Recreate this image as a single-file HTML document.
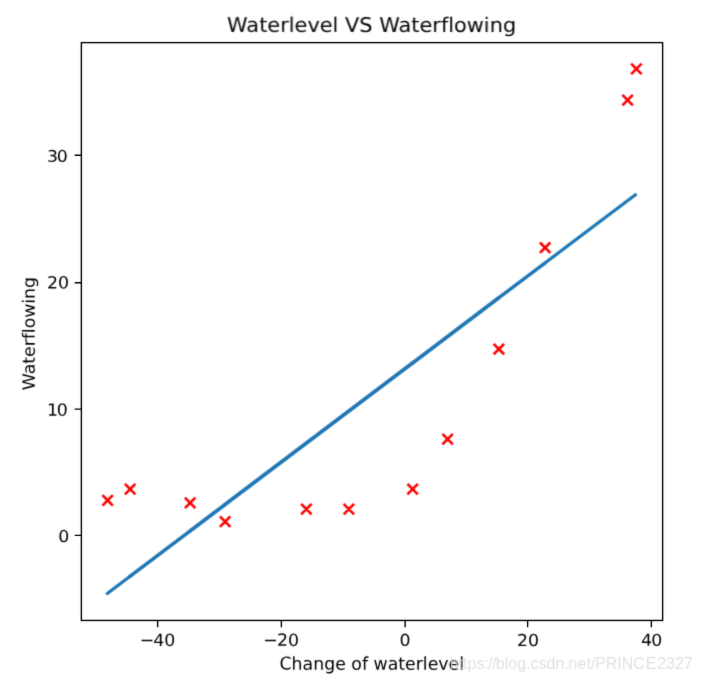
<!DOCTYPE html>
<html lang="en"><head><meta charset="utf-8"><title>Waterlevel VS Waterflowing</title>
<style>
html,body{margin:0;padding:0;background:#fff;}
body{width:702px;height:682px;overflow:hidden;position:relative;}
svg{display:block;position:absolute;left:0;top:0;}
text{font-family:"DejaVu Sans","Liberation Sans",sans-serif;fill:#000;text-rendering:geometricPrecision;font-variant-ligatures:none;}
.tk{font-size:13.889px;}
.ti{font-size:16.667px;}
.wm{font-family:"Liberation Sans",sans-serif;font-size:16px;text-rendering:auto;}
</style></head><body>
<svg width="702" height="682" viewBox="0 0 702 682">
<defs><filter id="softs" x="-5%" y="-5%" width="110%" height="110%" color-interpolation-filters="sRGB"><feConvolveMatrix order="3" kernelMatrix="0.0056 0.0638 0.0056 0.0638 0.7225 0.0638 0.0056 0.0638 0.0056" divisor="1" edgeMode="none" preserveAlpha="false"/></filter><filter id="softd" x="-5%" y="-5%" width="110%" height="110%" color-interpolation-filters="sRGB"><feConvolveMatrix order="3" kernelMatrix="0.0225 0.105 0.0225 0.105 0.49 0.105 0.0225 0.105 0.0225" divisor="1" edgeMode="none" preserveAlpha="false"/></filter><filter id="softt" x="-5%" y="-5%" width="110%" height="110%" color-interpolation-filters="sRGB"><feConvolveMatrix order="3" kernelMatrix="0.0169 0.0962 0.0169 0.0962 0.5476 0.0962 0.0169 0.0962 0.0169" divisor="1" edgeMode="none" preserveAlpha="false"/></filter><filter id="stamp" x="-5%" y="-30%" width="110%" height="160%" color-interpolation-filters="sRGB"><feComponentTransfer in="SourceAlpha" result="shade"><feFuncA type="linear" slope="0.1597"/></feComponentTransfer><feMerge result="both"><feMergeNode in="SourceGraphic"/><feMergeNode in="shade"/></feMerge><feConvolveMatrix in="both" order="3" kernelMatrix="0.01 0.08 0.01 0.08 0.64 0.08 0.01 0.08 0.01" divisor="1" edgeMode="none" preserveAlpha="false"/></filter></defs>
<rect x="0" y="0" width="702" height="682" fill="#fff"/>
<g id="data" transform="matrix(1.25 0 0 1.2507 -13 -48.051)" filter="url(#softd)">
<path id="markers" d="M92.333 434.333L100.667 442.667M92.333 442.667L100.667 434.333M110.333 425.333L118.667 433.667M110.333 433.667L118.667 425.333M158.333 436.333L166.667 444.667M158.333 444.667L166.667 436.333M186.333 451.333L194.667 459.667M186.333 459.667L194.667 451.333M251.333 441.333L259.667 449.667M251.333 449.667L259.667 441.333M285.333 441.333L293.667 449.667M285.333 449.667L293.667 441.333M336.333 425.333L344.667 433.667M336.333 433.667L344.667 425.333M364.333 385.333L372.667 393.667M364.333 393.667L372.667 385.333M405.333 313.333L413.667 321.667M405.333 321.667L413.667 313.333M442.333 232.333L450.667 240.667M442.333 240.667L450.667 232.333M508.333 114.333L516.667 122.667M508.333 122.667L516.667 114.333M515.333 89.333L523.667 97.667M515.333 97.667L523.667 89.333" fill="none" stroke="#f00" stroke-width="2.083" stroke-linecap="butt"/>
<g id="fit" fill="none" stroke="#1f77b4" stroke-linecap="butt">
<path d="M96.256 512.91L114.774 498.935" stroke-width="2.64" stroke-linecap="round"/>
<path d="M113.816 499.658L162.593 462.849" stroke-width="2.91"/>
<path d="M161.635 463.572L190.033 442.142" stroke-width="2.98"/>
<path d="M189.075 442.865L340.949 328.255" stroke-width="3.05"/>
<path d="M339.991 328.978L409.724 276.355" stroke-width="2.99"/>
<path d="M408.766 277.078L446.561 248.557" stroke-width="2.76"/>
<path d="M445.603 249.28L518.744 194.085" stroke-width="2.58" stroke-linecap="round"/>
</g>
</g>
<g id="frame" transform="matrix(1.25 0 0 1.2507 -13 -48.051)" filter="url(#softs)">
<rect id="spines" x="75.5" y="72.5" width="465" height="462" fill="none" stroke="#000" stroke-width="1.111"/>
<path id="ticks" d="M136.5 534.5V539.85M235.5 534.5V539.85M334.5 534.5V539.85M432.5 534.5V539.85M531.5 534.5V539.85M75.5 466.5H70.15M75.5 365.5H70.15M75.5 264.5H70.15M75.5 162.5H70.15" fill="none" stroke="#000" stroke-width="1.111"/>
</g>
<g id="labels" transform="matrix(1.25 0 0 1.2507 -13 -48.051)" filter="url(#softt)">
<text id="xt-40" class="tk" text-anchor="middle" dx="0.75 -0.75" transform="translate(135.621 554.832) rotate(0.04) scale(1 0.9751)">−40</text>
<text id="xt-20" class="tk" text-anchor="middle" dx="0.7 -0.7" transform="translate(234.664 554.83) rotate(0.04) scale(1 0.9691)">−20</text>
<text id="xt0" class="tk" text-anchor="middle" transform="translate(334.325 554.748) rotate(0.04) scale(1 0.943)">0</text>
<text id="xt20" class="tk" text-anchor="middle" transform="translate(432.84 554.865) rotate(0.04) scale(1 0.9512)">20</text>
<text id="xt40" class="tk" text-anchor="middle" dx="0.64 -0.64" transform="translate(530.995 554.682) rotate(0.04) scale(1 0.94)">40</text>
<text id="yt0" class="tk" text-anchor="end" transform="translate(65.823 471.726) rotate(0.04) scale(1 0.9486)">0</text>
<text id="yt10" class="tk" text-anchor="end" dx="0.36 -1.04" transform="translate(64.18 370.918) rotate(0.04) scale(1 0.9746)">10</text>
<text id="yt20" class="tk" text-anchor="end" transform="translate(65.658 269.008) rotate(0.04) scale(1 0.9752)">20</text>
<text id="yt30" class="tk" text-anchor="end" dx="0.2 -1.16" transform="translate(64.347 167.759) rotate(0.04) scale(1 0.9261)">30</text>
<text id="xlabel" class="tk" text-anchor="middle" transform="translate(307.812 573.869) rotate(0.04) scale(0.999 1.0161)">Change of waterlevel</text>
<text id="ylabel" class="tk" text-anchor="middle" transform="translate(38.132 305.162) rotate(-89.96) scale(0.9941 0.977)">Waterflowing</text>
<text id="title" class="ti" text-anchor="middle" transform="translate(307.693 64.116) rotate(0.04) scale(1.0024 0.9698)">Waterlevel VS Waterflowing</text>
</g>
<text id="wm" class="wm" x="-46.02 -37.12 -32.68 -28.23 -19.33 -11.33 -7.56 -3.78 0 8.99 12.58 21.57 30.56 34.65 42.73 50.81 59.8 68.78 72.87 81.86 90.85 95.34 99.43 110.06 121.57 125.99 137.5 149.91 161.44 170.3 179.17 188.03" y="0" transform="translate(495.75 668.6) scale(1 1.03)" filter="url(#stamp)" style="fill:#fff;fill-opacity:0.72">https://blog.csdn.net/PRINCE2327</text>
</svg>
</body></html>
